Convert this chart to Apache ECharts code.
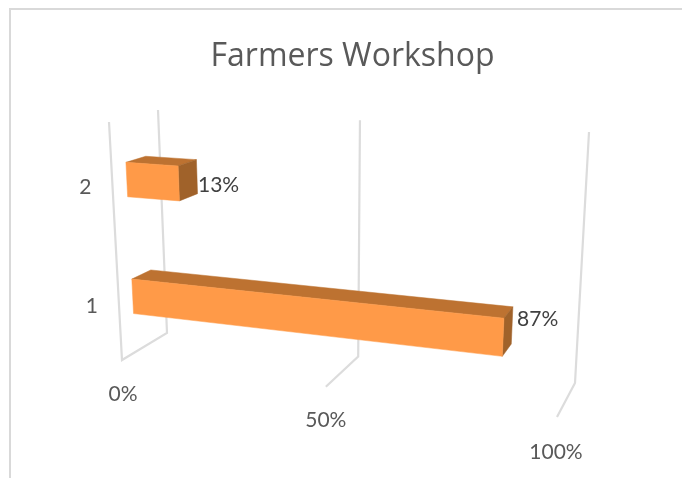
<!DOCTYPE html>
<html><head><meta charset="utf-8">
<style>html,body{margin:0;padding:0;background:#fff}#c{width:682px;height:478px}</style>
<script src="https://cdn.jsdelivr.net/npm/echarts@6/dist/echarts.min.js"></script>
</head><body><div id="c"></div>
<script>
const titleText = 'Farmers Workshop';
const categories = ['1', '2'];
const shares = [87, 13];
const valueTicks = [0, 50, 100];
const tickLabels = ['0%', '50%', '100%'];

// Perspective box of the 3D plot: corners as [x, y] on the page.
const box = {
  f0b: [122, 360], f0t: [109, 122], b0b: [167, 333], b0t: [158, 110],
  f1b: [557, 417], f1t: [572, 149], b1b: [575, 383], b1t: [589, 132]
};
const K = 1.134, D0 = 0.3, D1 = 0.71;
const mix = (a, b, t) => [a[0] + (b[0] - a[0]) * t, a[1] + (b[1] - a[1]) * t];
function project(v, h, d) {
  const s = v / (v + K * (1 - v));
  const f0 = mix(box.f0b, box.f0t, h), b0 = mix(box.b0b, box.b0t, h);
  const f1 = mix(box.f1b, box.f1t, h), b1 = mix(box.b1b, box.b1t, h);
  return mix(mix(f0, f1, s), mix(b0, b1, s), d);
}
const norm = (p, cs) => [(p[0] - cs.x) / cs.width, (cs.y + cs.height - p[1]) / cs.height];
const labelFont = '21px Lato, sans-serif';

const option = {
  animation: false,
  backgroundColor: '#fff',
  grid: { left: 100, top: 100, width: 400, height: 300 },
  xAxis: { type: 'value', min: 0, max: 100, interval: 50, show: false },
  yAxis: { type: 'category', data: categories, show: false },
  graphic: [{
    type: 'polyline', silent: true,
    shape: { points: [[10, 478], [10, 9], [682, 9]] },
    style: { stroke: '#d9d9d9', lineWidth: 2, fill: null }
  }],
  title: {
    text: titleText, left: 347.5, top: 36, textAlign: 'center',
    textStyle: { fontFamily: '"Open Sans", sans-serif', fontSize: 32, fontWeight: 'normal', color: '#595959' }
  },
  series: [{
    type: 'custom', coordinateSystem: 'cartesian2d', z: 1, silent: true,
    data: valueTicks.map((t, i) => [t, 0, i]),
    encode: { x: 0, y: 1 },
    renderItem(params, api) {
      const cs = params.coordSys;
      const u = norm(api.coord([api.value(0), 0]), cs)[0];
      const pts = [project(u, 1, 1), project(u, 0, 1), project(u, 0, 0)];
      if (u === 0) pts.push(project(u, 1, 0));
      const end = project(u, 0, 0);
      const off = [[1, 34], [0, 34], [-1, 35]][api.value(2)];
      return { type: 'group', children: [
        { type: 'polyline', shape: { points: pts }, style: { stroke: '#dcdcdc', lineWidth: 2.2, fill: null } },
        { type: 'text', x: end[0] + off[0], y: end[1] + off[1],
          style: { text: tickLabels[api.value(2)], font: labelFont, fill: '#595959', align: 'center', verticalAlign: 'middle' } }
      ]};
    }
  }, {
    type: 'custom', coordinateSystem: 'cartesian2d', z: 2, silent: true,
    data: shares.map((s, i) => [s, i]),
    encode: { x: 0, y: 1 },
    renderItem(params, api) {
      const cs = params.coordSys;
      const p = norm(api.coord([api.value(0), api.value(1)]), cs);
      const band = api.size([0, 1])[1] / cs.height;
      const u = p[0], h0 = p[1] - 0.295 * band / 2 - 0.012, h1 = h0 + 0.295 * band;
      const P = (v, h, d) => project(v, h, d);
      const face = (pts, c) => ({ type: 'polygon', shape: { points: pts }, style: { fill: c, stroke: c, lineWidth: 0.5 } });
      const anchor = P(u, (h0 + h1) / 2, D1);
      const cat = P(0, (h0 + h1) / 2, 0);
      const first = api.value(1) === 0;
      return { type: 'group', children: [
        face([P(0, h1, D0), P(u, h1, D0), P(u, h1, D1), P(0, h1, D1)], '#BD7231'),
        face([P(u, h0, D0), P(u, h0, D1), P(u, h1, D1), P(u, h1, D0)], '#A0622A'),
        face([P(0, h0, D0), P(u, h0, D0), P(u, h1, D0), P(0, h1, D0)], '#FF9A48'),
        { type: 'text', x: anchor[0] + (first ? 5 : 1), y: anchor[1] + (first ? -6 : 9),
          style: { text: api.value(0) + '%', font: labelFont, fill: '#404040', align: 'left', verticalAlign: 'middle' } },
        { type: 'text', x: cat[0] - 27, y: cat[1] + 3,
          style: { text: categories[api.value(1)], font: labelFont, fill: '#595959', align: 'center', verticalAlign: 'middle' } }
      ]};
    }
  }]
};
const chart = echarts.init(document.getElementById('c'), null, { renderer: 'canvas' });
chart.setOption(option);
</script></body></html>
